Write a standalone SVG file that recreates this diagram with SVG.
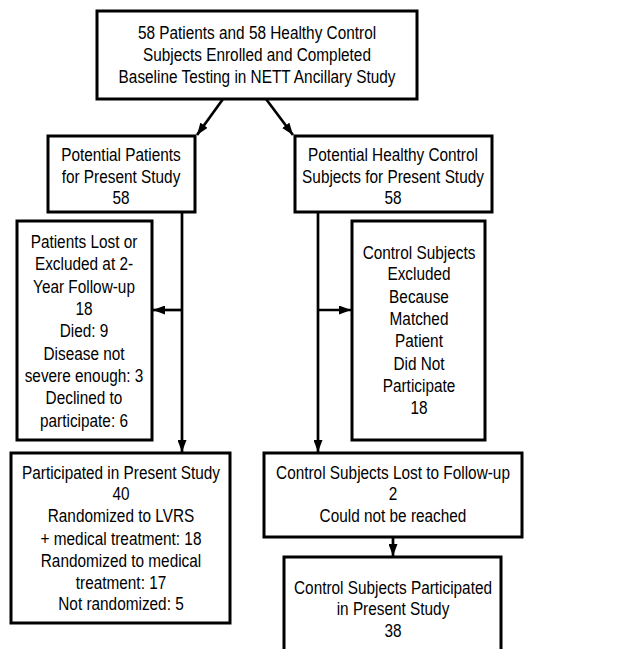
<svg xmlns="http://www.w3.org/2000/svg" width="628" height="649" viewBox="0 0 628 649">
<defs>
<marker id="ah" viewBox="0 0 12 9" refX="12" refY="4.5" markerWidth="12" markerHeight="9" markerUnits="userSpaceOnUse" orient="auto">
<path d="M0,0 L12,4.5 L0,9 z" fill="#000"/>
</marker>
<style>
.box{fill:#fff;stroke:#000;stroke-width:3}
.t{font-family:"Liberation Sans",Arial,sans-serif;font-size:18.5px;fill:#000;text-anchor:middle}
.c{stroke:#000;stroke-width:2.7;fill:none;marker-end:url(#ah)}
</style>
</defs>
<rect width="628" height="649" fill="#fff"/>
<g id="connectors">
<line class="c" x1="223" y1="99" x2="197" y2="135"/>
<line class="c" x1="266" y1="99" x2="293" y2="135"/>
<line class="c" x1="182" y1="212" x2="182" y2="452"/>
<line class="c" x1="182" y1="310" x2="153" y2="310"/>
<line class="c" x1="318" y1="212" x2="318" y2="452"/>
<line class="c" x1="318" y1="310" x2="351" y2="310"/>
<line class="c" x1="393" y1="538" x2="393" y2="556"/>
</g>
<g id="n1">
<rect class="box" x="97" y="11" width="320" height="88"/>
<g transform="translate(257 0) scale(0.83 1)">
<text class="t" x="0" y="39">58 Patients and 58 Healthy Control</text>
<text class="t" x="0" y="61">Subjects Enrolled and Completed</text>
<text class="t" x="0" y="83">Baseline Testing in NETT Ancillary Study</text>
</g>
</g>
<g id="n2">
<rect class="box" x="48" y="136" width="147" height="76"/>
<g transform="translate(121 0) scale(0.83 1)">
<text class="t" x="0" y="161">Potential Patients</text>
<text class="t" x="0" y="183">for Present Study</text>
<text class="t" x="0" y="204">58</text>
</g>
</g>
<g id="n3">
<rect class="box" x="295" y="136" width="197" height="76"/>
<g transform="translate(393 0) scale(0.83 1)">
<text class="t" x="0" y="161">Potential Healthy Control</text>
<text class="t" x="0" y="183">Subjects for Present Study</text>
<text class="t" x="0" y="204">58</text>
</g>
</g>
<g id="n4">
<rect class="box" x="17" y="221" width="135" height="219"/>
<g transform="translate(84 0) scale(0.83 1)">
<text class="t" x="0" y="248">Patients Lost or</text>
<text class="t" x="0" y="270">Excluded at 2-</text>
<text class="t" x="0" y="293">Year Follow-up</text>
<text class="t" x="0" y="315">18</text>
<text class="t" x="0" y="337">Died: 9</text>
<text class="t" x="0" y="360">Disease not</text>
<text class="t" x="0" y="382">severe enough: 3</text>
<text class="t" x="0" y="404">Declined to</text>
<text class="t" x="0" y="427">participate: 6</text>
</g>
</g>
<g id="n5">
<rect class="box" x="352" y="221" width="133" height="219"/>
<g transform="translate(419 0) scale(0.83 1)">
<text class="t" x="0" y="259">Control Subjects</text>
<text class="t" x="0" y="280">Excluded</text>
<text class="t" x="0" y="303">Because</text>
<text class="t" x="0" y="325">Matched</text>
<text class="t" x="0" y="347">Patient</text>
<text class="t" x="0" y="370">Did Not</text>
<text class="t" x="0" y="392">Participate</text>
<text class="t" x="0" y="414">18</text>
</g>
</g>
<g id="n6">
<rect class="box" x="11" y="453" width="219" height="170"/>
<g transform="translate(121 0) scale(0.83 1)">
<text class="t" x="0" y="479">Participated in Present Study</text>
<text class="t" x="0" y="500">40</text>
<text class="t" x="0" y="522">Randomized to LVRS</text>
<text class="t" x="0" y="545">+ medical treatment: 18</text>
<text class="t" x="0" y="567">Randomized to medical</text>
<text class="t" x="0" y="589">treatment: 17</text>
<text class="t" x="0" y="610">Not randomized: 5</text>
</g>
</g>
<g id="n7">
<rect class="box" x="264" y="453" width="258" height="84"/>
<g transform="translate(393 0) scale(0.83 1)">
<text class="t" x="0" y="479">Control Subjects Lost to Follow-up</text>
<text class="t" x="0" y="500">2</text>
<text class="t" x="0" y="522">Could not be reached</text>
</g>
</g>
<g id="n8">
<rect class="box" x="284" y="557" width="217" height="100"/>
<g transform="translate(393 0) scale(0.83 1)">
<text class="t" x="0" y="594">Control Subjects Participated</text>
<text class="t" x="0" y="615">in Present Study</text>
<text class="t" x="0" y="637">38</text>
</g>
</g>
</svg>
